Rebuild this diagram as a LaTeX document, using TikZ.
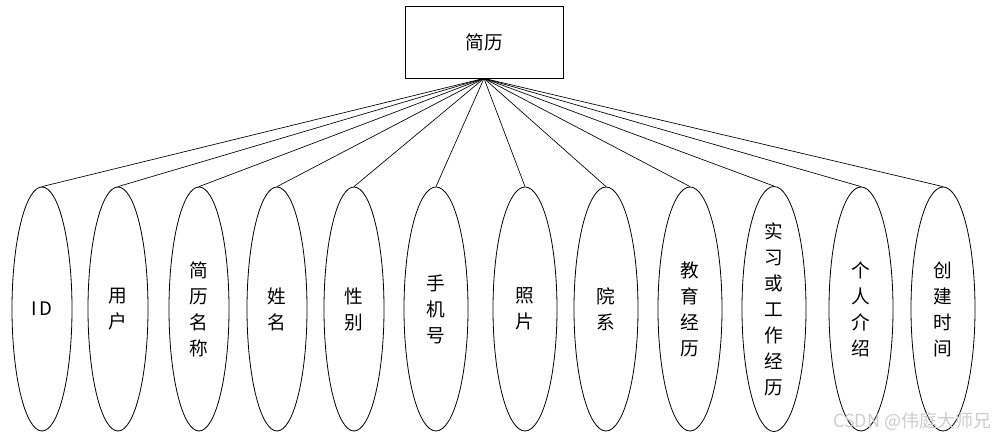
\documentclass[tikz,border=0pt]{standalone}
\usepackage{fontspec}
\setmainfont{Noto Sans CJK SC}
\definecolor{markgray}{RGB}{205,205,205}
\usetikzlibrary{shapes.geometric}

\begin{document}
\begin{tikzpicture}[x=0.75pt,y=-0.75pt,
    entity/.style={draw, line width=0.6pt, minimum width=118.5pt, minimum height=54pt,
                   inner sep=0pt, font=\fontsize{14pt}{16pt}\selectfont},
    attr/.style={draw, ellipse, line width=0.6pt, inner sep=0pt, minimum width=48pt,
                 minimum height=183pt, align=center,
                 font=\fontsize{14pt}{19.5pt}\selectfont},
    narrow/.style={minimum width=45pt},
    link/.style={line width=0.5pt}]
  \useasboundingbox (0,0) rectangle (1000,441);
  \node[entity] (resume) at (484,42) {简历};
  % attributes
  \node[attr, narrow] (a1) at (42,309) {I\kern2pt D};
  \node[attr, narrow] (a2) at (118,309) {用\\户};
  \node[attr, narrow] (a3) at (199,309) {简\\历\\名\\称};
  \node[attr, narrow] (a4) at (277,309) {姓\\名};
  \node[attr, narrow] (a5) at (354,309) {性\\别};
  \node[attr] (a6) at (436,309) {手\\机\\号};
  \node[attr] (a7) at (525,309) {照\\片};
  \node[attr] (a8) at (606,309) {院\\系};
  \node[attr] (a9) at (690,309) {教\\育\\经\\历};
  \node[attr] (a10) at (774,309) {实\\习\\或\\工\\作\\经\\历};
  \node[attr] (a11) at (861,309) {个\\人\\介\\绍};
  \node[attr] (a12) at (943,309) {创\\建\\时\\间};
  \foreach \i in {1,...,12}
    \draw[link] (resume.south) -- (a\i.north);
  \node[text=markgray, font=\fontsize{13.5pt}{15pt}\selectfont, anchor=east] (mark) at (996,421) {CSDN @伟庭大师兄};
\end{tikzpicture}
\end{document}
